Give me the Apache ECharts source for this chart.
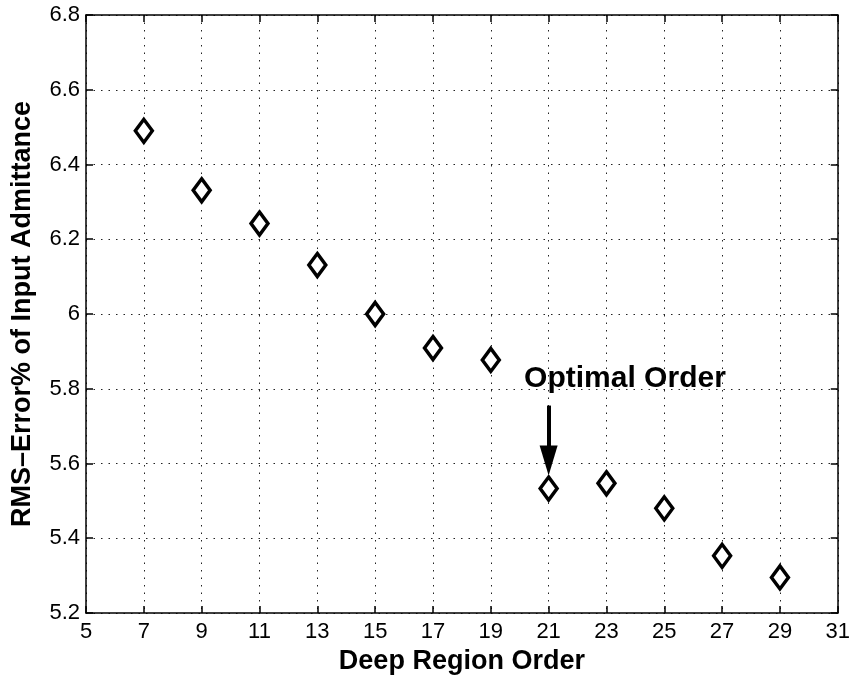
<!DOCTYPE html>
<html>
<head>
<meta charset="utf-8">
<title>RMS-Error vs Deep Region Order</title>
<script src="https://cdn.jsdelivr.net/npm/echarts@6/dist/echarts.min.js"></script>
<style>
  html, body { margin: 0; padding: 0; background: #ffffff; }
  #chart { width: 853px; height: 680px; }
</style>
</head>
<body>
<div id="chart"></div>
<script>
// Model order of the deep region and the resulting RMS error (%) of the input admittance
const orders = [7, 9, 11, 13, 15, 17, 19, 21, 23, 25, 27, 29];
const rmsError = [6.49, 6.331, 6.242, 6.131, 6.0, 5.909, 5.877, 5.533, 5.547, 5.48, 5.353, 5.295];

// Axis ranges
const xRange = [5, 31, 2];
const yRange = [5.2, 6.8, 0.2];

// Annotation for the chosen order (arrow runs from arrowFrom down to the head centred at arrowTo)
const optimalOrder = 21;
const arrowFrom = 5.755;
const arrowTo = 5.608;
const noteText = 'Optimal Order';
const notePos = [23.64, 5.827];

const FONT = 'Liberation Sans, Arial, Helvetica, sans-serif';
const INK = '#000000';

const chart = echarts.init(document.getElementById('chart'), null, { renderer: 'canvas' });

const dotted = { color: '#222', width: 1, type: [1.5, 6] };

function baseX(extra) {
  return Object.assign({
    type: 'value',
    min: xRange[0], max: xRange[1], interval: xRange[2],
    axisLine: { show: true, onZero: false, lineStyle: { color: INK, width: 1.5 } },
    axisTick: { show: true, inside: true, length: 7, lineStyle: { color: INK, width: 1.5 } },
    splitLine: { show: false }
  }, extra);
}
function baseY(extra) {
  return Object.assign({
    type: 'value',
    min: yRange[0], max: yRange[1], interval: yRange[2],
    axisLine: { show: true, onZero: false, lineStyle: { color: INK, width: 1.5 } },
    axisTick: { show: true, inside: true, length: 7, lineStyle: { color: INK, width: 1.5 } },
    splitLine: { show: false }
  }, extra);
}

chart.setOption({
  backgroundColor: '#ffffff',
  animation: false,
  grid: { left: 86, right: 13, top: 15, bottom: 67, containLabel: false },
  xAxis: [
    baseX({
      position: 'bottom',
      name: 'Deep Region Order',
      nameLocation: 'middle',
      nameGap: 30,
      nameTextStyle: { fontFamily: FONT, fontSize: 27, fontWeight: 'bold', color: INK },
      axisLabel: { show: true, margin: 8, fontFamily: FONT, fontSize: 22, color: INK },
      splitLine: { show: true, lineStyle: dotted }
    }),
    baseX({ position: 'top', axisLabel: { show: false } })
  ],
  yAxis: [
    baseY({
      position: 'left',
      name: 'RMS\u2013Error% of Input Admittance',
      nameLocation: 'middle',
      nameGap: 50,
      nameTextStyle: { fontFamily: FONT, fontSize: 27, fontWeight: 'bold', color: INK },
      axisLabel: {
        show: true, margin: 6, fontFamily: FONT, fontSize: 22, color: INK,
        formatter: v => String(Math.round(v * 10) / 10)
      },
      splitLine: { show: true, lineStyle: dotted }
    }),
    baseY({ position: 'right', axisLabel: { show: false } })
  ],
  series: [
    {
      type: 'scatter',
      xAxisIndex: 0,
      yAxisIndex: 0,
      data: orders.map((o, i) => [o, rmsError[i]]),
      symbol: 'diamond',
      symbolSize: [17, 23],
      itemStyle: { color: '#ffffff', borderColor: INK, borderWidth: 3.5, opacity: 1 },
      z: 5,
      markLine: {
        silent: true,
        symbol: ['none', 'triangle'],
        symbolSize: [18, 30],
        label: { show: false },
        lineStyle: { color: INK, width: 4, type: 'solid', opacity: 1 },
        itemStyle: { color: INK, opacity: 1 },
        data: [[
          { coord: [optimalOrder, arrowFrom] },
          { coord: [optimalOrder, arrowTo] }
        ]]
      },
      markPoint: {
        silent: true,
        symbol: 'circle',
        symbolSize: 0,
        label: {
          show: true,
          position: 'inside',
          formatter: noteText,
          fontFamily: FONT, fontSize: 30, fontWeight: 'bold', color: INK
        },
        data: [{ coord: notePos }]
      }
    }
  ]
});
</script>
</body>
</html>
